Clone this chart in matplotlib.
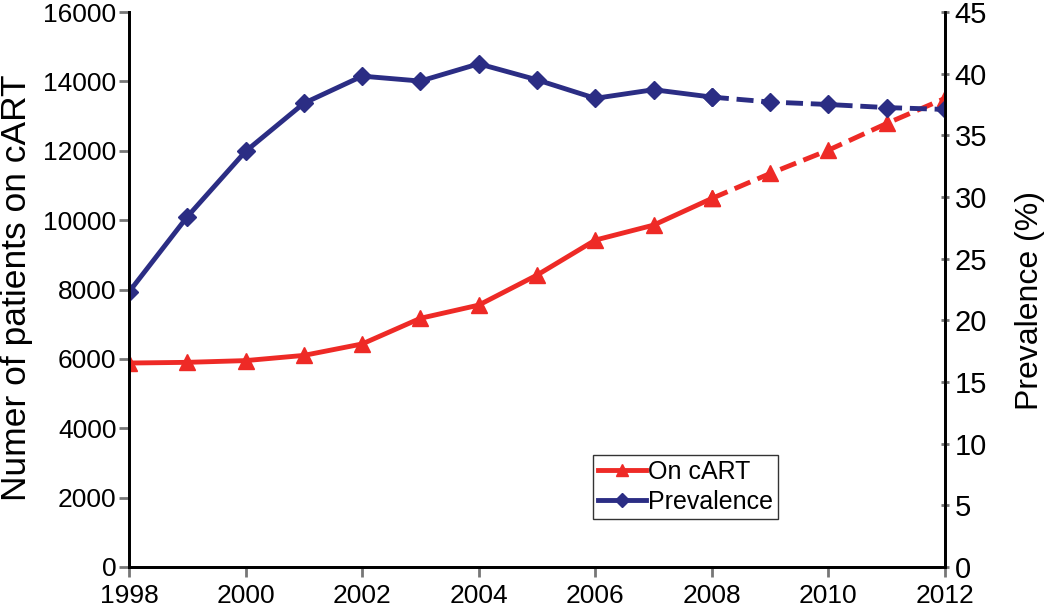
import numpy as np
import matplotlib
matplotlib.use("Agg")
import matplotlib.pyplot as plt

plt.rcParams['font.family'] = ['Liberation Sans', 'DejaVu Sans']

# data
years = [1998, 1999, 2000, 2001, 2002, 2003, 2004, 2005,
         2006, 2007, 2008, 2009, 2010, 2011, 2012]
on_cart = [5880, 5900, 5950, 6100, 6430, 7170, 7550, 8415,
           9424, 9856, 10625, 11345, 12018, 12787, 13510]
prevalence = [22.3, 28.4, 33.7, 37.6, 39.8, 39.4, 40.8, 39.5,
              38.0, 38.7, 38.1, 37.7, 37.5, 37.25, 37.1]
proj_start = 2008  # dashed (projected) from here on

x_ticks = [1998, 2000, 2002, 2004, 2006, 2008, 2010, 2012]
left_ticks = [0, 2000, 4000, 6000, 8000, 10000, 12000, 14000, 16000]
right_ticks = [0, 5, 10, 15, 20, 25, 30, 35, 40, 45]

red = '#ee2a26'
blue = '#2b2d84'

years = np.array(years)
on_cart = np.array(on_cart)
prevalence = np.array(prevalence)
obs = years <= proj_start
proj = years >= proj_start

fig = plt.figure(figsize=(10.5, 6.14), dpi=100)
ax = fig.add_axes([129 / 1050, 1 - 567 / 614, (945 - 129) / 1050, (567 - 12) / 614])
ax2 = ax.twinx()

ax.plot(years[obs], on_cart[obs], color=red, lw=3.5, marker='^', ms=12,
        label='On cART')
ax.plot(years[proj], on_cart[proj], color=red, lw=3.5, marker='^', ms=12,
        dashes=(3.5, 1.6))

ax2.plot(years[obs], prevalence[obs], color=blue, lw=3.5, marker='D', ms=9.5,
         label='Prevalence')
ax2.plot(years[proj], prevalence[proj], color=blue, lw=3.5, marker='D', ms=9.5,
         dashes=(3.5, 1.6))

ax.set_xlim(1998, 2012)
ax.set_ylim(0, 16000)
ax2.set_ylim(0, 45)
ax.set_xticks(x_ticks)
ax.set_yticks(left_ticks)
ax2.set_yticks(right_ticks)

for a in (ax, ax2):
    a.spines['top'].set_visible(False)
    for s in ('left', 'right', 'bottom'):
        a.spines[s].set_linewidth(2)
        a.spines[s].set_color('black')

ax.tick_params(axis='x', labelsize=19, length=7, width=2, color='#777777', pad=5)
ax.tick_params(axis='y', labelsize=19, length=7, width=2, color='#777777', pad=2)
ax2.tick_params(axis='y', labelsize=21, length=6, width=2, color='#777777',
                direction='inout', pad=4)

fig.text(17 / 1050, 1 - 288 / 614, 'Numer of patients on cART', rotation=90,
         ha='center', va='center', fontsize=25.5)
fig.text(1030 / 1050, 1 - 300 / 614, 'Prevalence (%)', rotation=90,
         ha='center', va='center', fontsize=23)

h1, l1 = ax.get_legend_handles_labels()
h2, l2 = ax2.get_legend_handles_labels()
leg = ax2.legend(h1 + h2, l1 + l2, loc='upper left', bbox_to_anchor=(0.569, 0.202),
                 borderaxespad=0, fancybox=False, edgecolor='black', fontsize=18,
                 handlelength=1.9, handletextpad=0.1, borderpad=0.2,
                 labelspacing=0.25, markerscale=0.7)
leg.get_frame().set_linewidth(1)

fig.savefig('out.png', dpi=100)
